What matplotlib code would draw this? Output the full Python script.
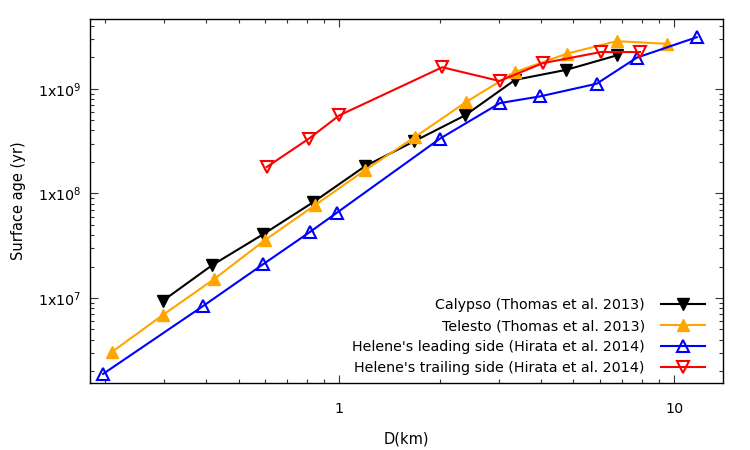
import matplotlib
matplotlib.use("Agg")
import matplotlib.pyplot as plt
from matplotlib.ticker import FixedLocator, FixedFormatter, LogLocator, NullFormatter

# Data (D in km, surface age in yr)
calypso_d = [0.297, 0.418, 0.593, 0.836, 1.193, 1.672, 2.375, 3.35, 4.76, 6.74]
calypso_age = [9.4e6, 2.07e7, 4.08e7, 8.25e7, 1.82e8, 3.15e8, 5.58e8, 1.22e9, 1.52e9, 2.09e9]

telesto_d = [0.210, 0.297, 0.422, 0.600, 0.846, 1.193, 1.684, 2.39, 3.35, 4.78, 6.74, 9.51]
telesto_age = [3.07e6, 6.88e6, 1.51e7, 3.58e7, 7.72e7, 1.67e8, 3.47e8, 7.48e8, 1.45e9, 2.17e9, 2.86e9, 2.70e9]

lead_d = [0.197, 0.392, 0.593, 0.818, 0.982, 2.0, 3.02, 3.98, 5.87, 7.74, 11.69]
lead_age = [1.88e6, 8.39e6, 2.11e7, 4.29e7, 6.52e7, 3.35e8, 7.32e8, 8.48e8, 1.12e9, 1.99e9, 3.12e9]

trail_d = [0.607, 0.812, 1.0, 2.03, 3.01, 4.05, 6.04, 7.91]
trail_age = [1.79e8, 3.35e8, 5.58e8, 1.61e9, 1.19e9, 1.76e9, 2.25e9, 2.25e9]

labels = ["Calypso (Thomas et al. 2013)",
          "Telesto (Thomas et al. 2013)",
          "Helene's leading side (Hirata et al. 2014)",
          "Helene's trailing side (Hirata et al. 2014)"]

x_ticks = [1, 10]
x_ticklabels = ["1", "10"]
y_ticks = [1e7, 1e8, 1e9]
y_ticklabels = [r"1x10$^{7}$", r"1x10$^{8}$", r"1x10$^{9}$"]

plt.rcParams['font.family'] = ['DejaVu Sans']
plt.rcParams['mathtext.fontset'] = 'dejavusans'

fig = plt.figure(figsize=(7.5, 4.5), dpi=100)
ax = fig.add_axes([0.12, 0.149, 0.844, 0.809])

lw = 1.5
ms = 9
ax.plot(calypso_d, calypso_age, color='black', lw=lw, marker='v', ms=ms,
        mfc='black', mec='black', label=labels[0])
ax.plot(telesto_d, telesto_age, color='#ffa500', lw=lw, marker='^', ms=ms,
        mfc='#ffa500', mec='#ffa500', label=labels[1])
ax.plot(lead_d, lead_age, color='blue', lw=lw, marker='^', ms=ms,
        mfc='none', mec='blue', mew=1.5, label=labels[2])
ax.plot(trail_d, trail_age, color='red', lw=lw, marker='v', ms=ms,
        mfc='none', mec='red', mew=1.5, label=labels[3])

ax.set_xscale('log')
ax.set_yscale('log')
ax.set_xlim(0.18, 14.0)
ax.set_ylim(1.54e6, 4.67e9)

ax.xaxis.set_major_locator(FixedLocator(x_ticks))
ax.xaxis.set_major_formatter(FixedFormatter(x_ticklabels))
ax.xaxis.set_minor_locator(LogLocator(base=10, subs=range(2, 10)))
ax.xaxis.set_minor_formatter(NullFormatter())
ax.yaxis.set_major_locator(FixedLocator(y_ticks))
ax.yaxis.set_major_formatter(FixedFormatter(y_ticklabels))
ax.yaxis.set_minor_locator(LogLocator(base=10, subs=range(2, 10)))
ax.yaxis.set_minor_formatter(NullFormatter())

ax.tick_params(which='both', direction='in', top=True, right=True, color='#333333')
ax.tick_params(which='major', length=5.5, width=0.8)
ax.tick_params(which='minor', length=3, width=0.8)
ax.tick_params(axis='x', which='major', pad=14, labelsize=10.3)
ax.tick_params(axis='y', which='major', pad=6, labelsize=10.3)
for s in ax.spines.values():
    s.set_linewidth(1.0)

ax.set_xlabel("D(km)", fontsize=10.5, labelpad=11)
ax.set_ylabel("Surface age (yr)", fontsize=10.5, labelpad=9)

leg = ax.legend(loc='lower right', bbox_to_anchor=(0.9716, 0.022), frameon=False,
                markerfirst=False, fontsize=10.3, handlelength=3.1, handletextpad=1.1,
                labelspacing=0.48, borderpad=0, borderaxespad=0)

fig.savefig("out.png", dpi=100)
